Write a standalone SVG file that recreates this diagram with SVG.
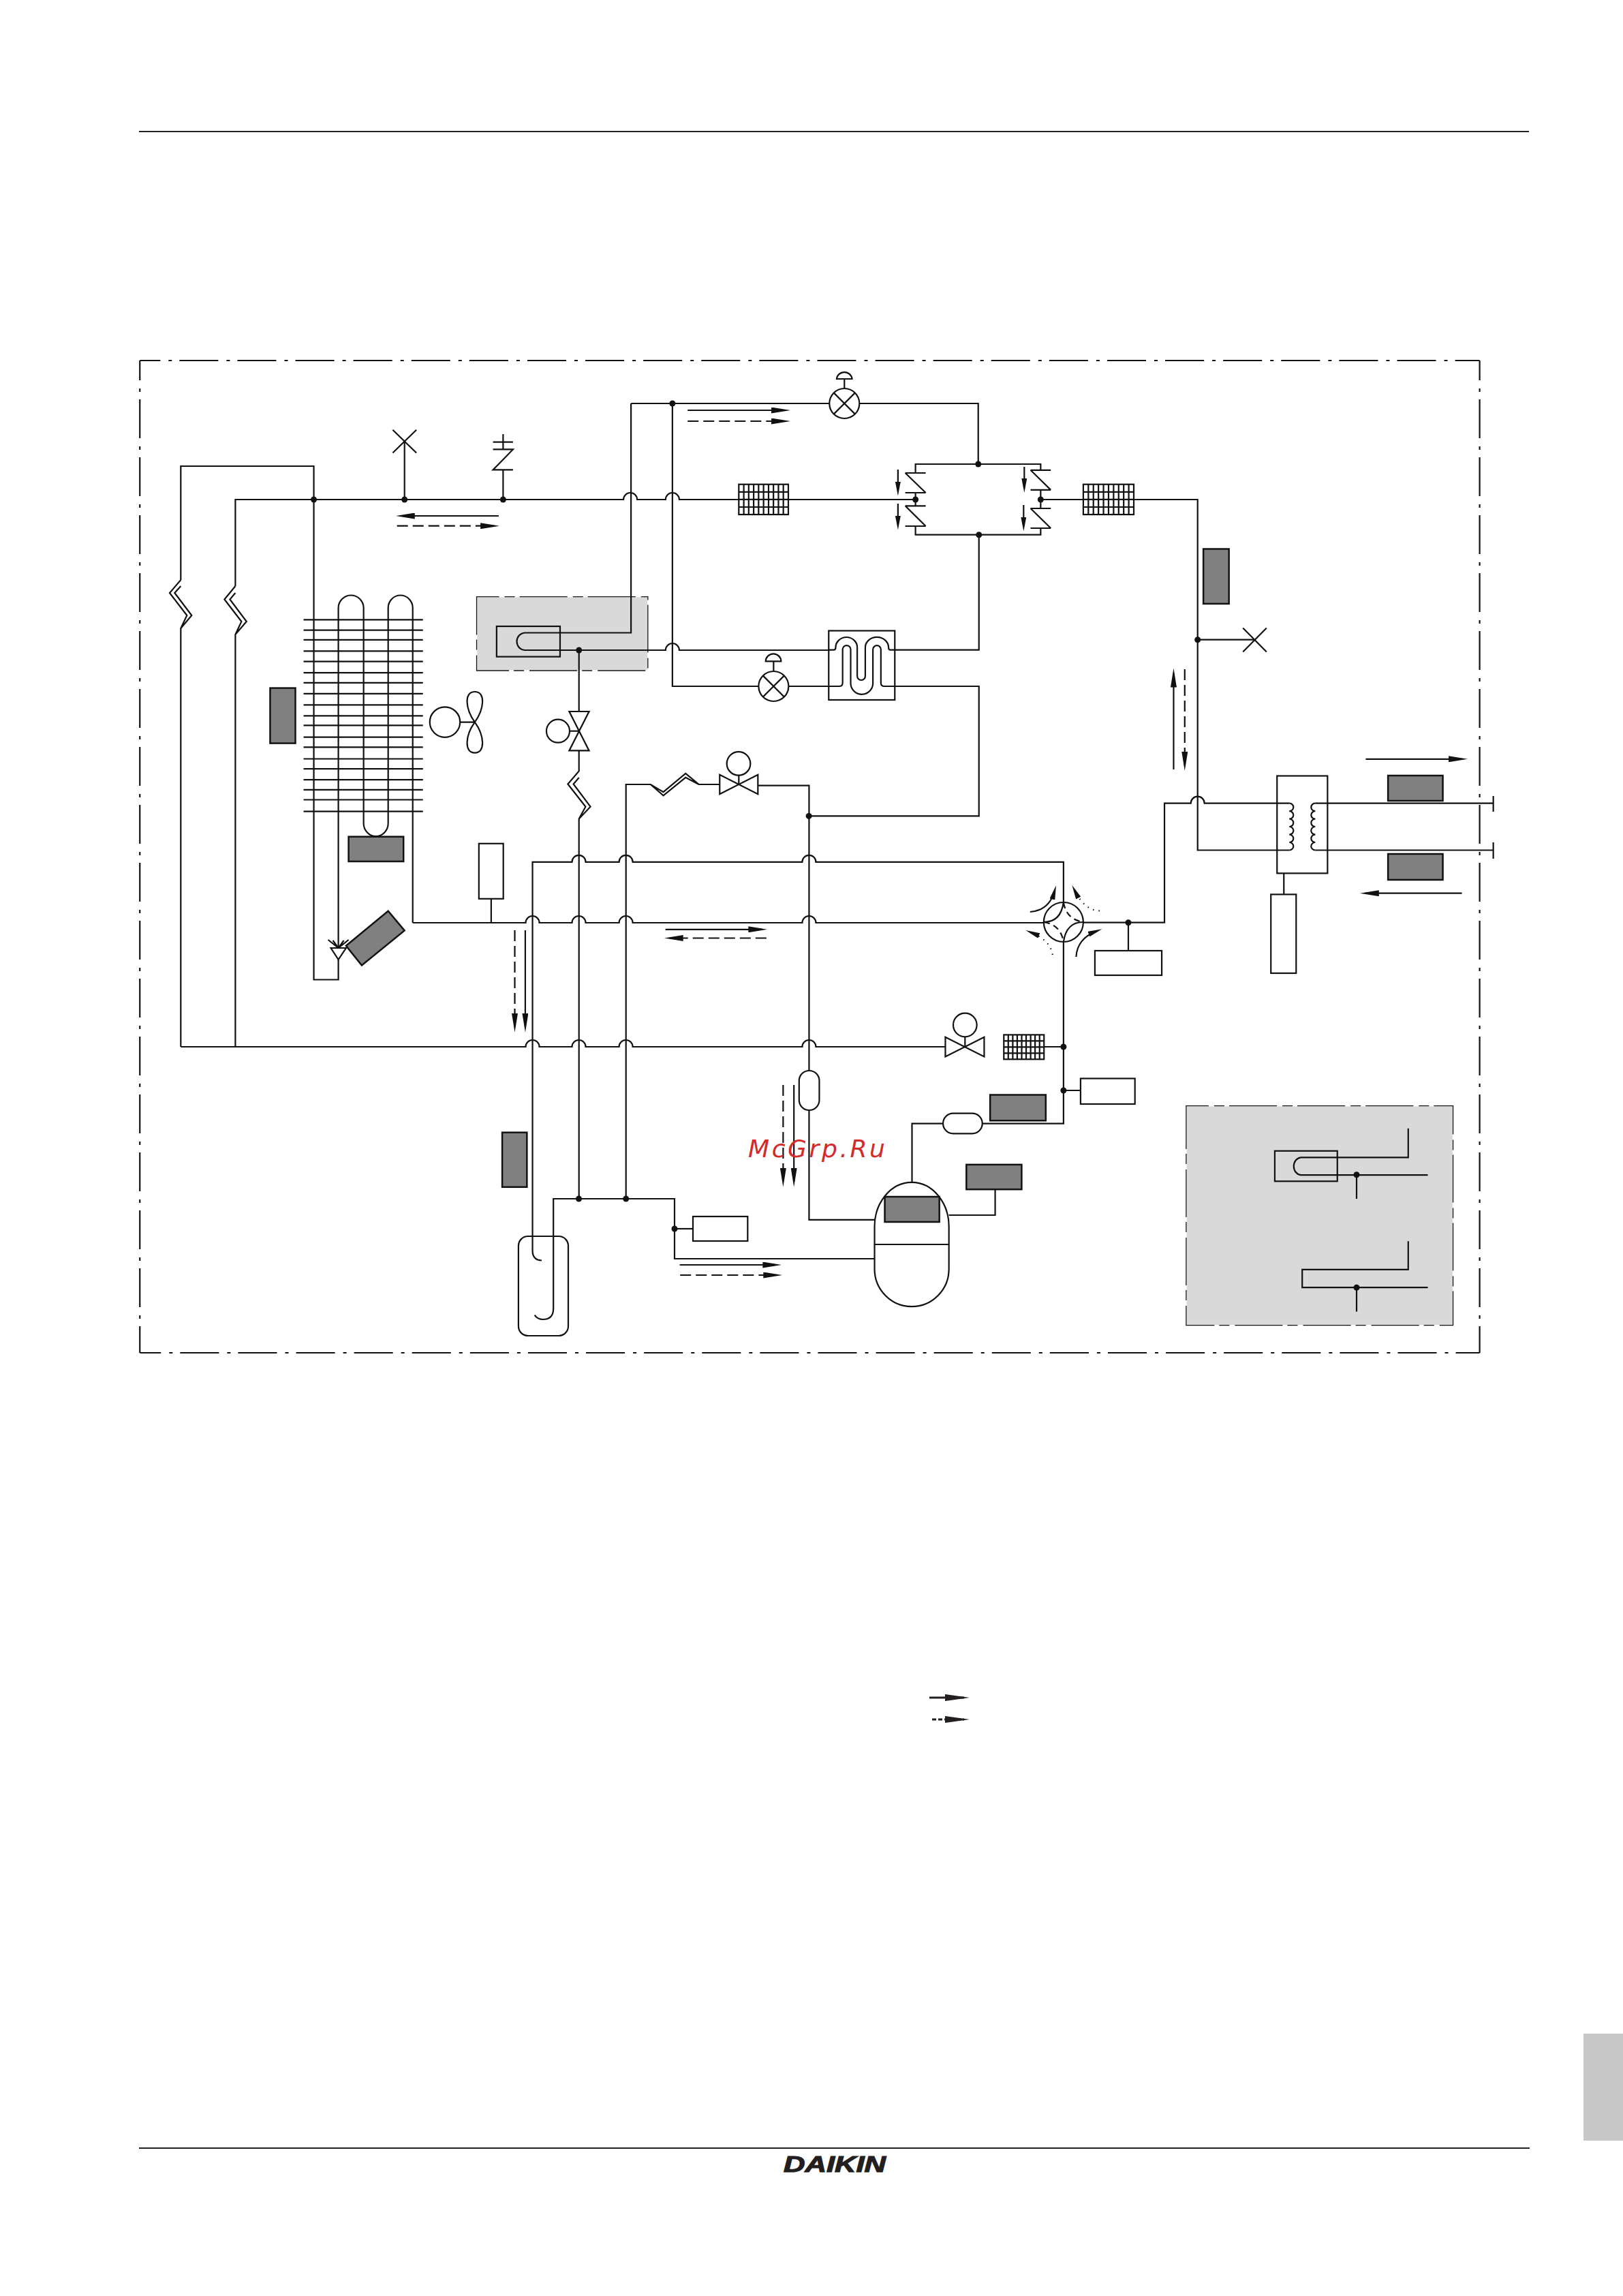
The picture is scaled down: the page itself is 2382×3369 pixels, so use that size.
<svg xmlns="http://www.w3.org/2000/svg" width="2382" height="3369" viewBox="0 0 2382 3369">
<style>
.l{fill:none;stroke:#111;stroke-width:2.2}
.w{fill:#fff;stroke:#111;stroke-width:2.2}
.g{fill:#808080;stroke:#111;stroke-width:2.5}
.zone{fill:#d9d9d9;stroke:#fff;stroke-width:1.5}
.zoneb{fill:none;stroke:#111;stroke-width:1.3;stroke-dasharray:70 8 15 7;stroke-dashoffset:37}
.frame{fill:none;stroke:#111;stroke-width:2.2;stroke-dasharray:57 12 5 11}
.dash{stroke-dasharray:16 7}
.dot{stroke-dasharray:1.5 7}
.a{marker-end:url(#hA)}
.s{marker-end:url(#hS)}
.n{fill:#111}
</style>
<defs>
<marker id="hA" markerUnits="userSpaceOnUse" markerWidth="28" markerHeight="9" refX="20" refY="4.5" orient="auto"><path d="M0,0L28,4.5L0,9Z" fill="#111"/></marker>
<marker id="hS" markerUnits="userSpaceOnUse" markerWidth="21" markerHeight="8" refX="13" refY="4" orient="auto"><path d="M0,0L21,4L0,8Z" fill="#111"/></marker>
<marker id="hL" markerUnits="userSpaceOnUse" markerWidth="36" markerHeight="10" refX="28" refY="5" orient="auto"><path d="M0,0L36,5L0,10Z" fill="#231f20"/></marker>
</defs>
<rect width="2382" height="3369" fill="#fff"/>
<g id="page">
<path d="M204,193H2244" fill="none" stroke="#222" stroke-width="2"/>
<path d="M204,3152H2245" fill="none" stroke="#222" stroke-width="2"/>
<rect x="2324" y="2984" width="58" height="157" fill="#c8c8c8"/>
<text x="1150" y="3187" font-family="'Liberation Sans',Arial,sans-serif" font-weight="700" font-style="italic" font-size="33" textLength="150" lengthAdjust="spacingAndGlyphs" fill="#231f20" stroke="#231f20" stroke-width="1.2">DAIKIN</text>
</g>
<g transform="scale(1.0012 1)">
<g id="frame">
<path class="frame" stroke-dashoffset="27" d="M205,529H2169"/>
<path class="frame" stroke-dashoffset="28" d="M205,529V1985"/>
<path class="frame" stroke-dashoffset="26" d="M205,1985H2169"/>
<path class="frame" stroke-dashoffset="28" d="M2169,529V1985"/>
</g>
<g id="zones">
<g id="zone-a"><rect class="zone" x="698.7" y="875.6" width="251" height="108.4"/><rect class="zoneb" x="698.7" y="875.6" width="251" height="108.4"/></g>
<g id="zone-b"><rect class="zone" x="1738.8" y="1622.7" width="391.2" height="322"/><rect class="zoneb" x="1738.8" y="1622.7" width="391.2" height="322"/></g>
</g>
<g id="connectors">
<path class="l" d="M265,851V684H460V1437.5H496V1408"/>
<path class="l" d="M265,851L248.7,870L274,903L265,922V1536M265,860L256,870L281,903L265,922"/>
<path class="l" d="M345,860V733H914A10,10 0 0 1 934,733H975.7A10,10 0 0 1 995.7,733H1342"/>
<path class="l" d="M345,860L329,879.5L354,912L345,931V1536M345,870L337,879.5L361.4,912L345,931"/>
<path class="l" d="M265,1536H770.6A10,10 0 0 1 790.6,1536H838.5A10,10 0 0 1 858.5,1536H907.5A10,10 0 0 1 927.5,1536H1176A10,10 0 0 1 1196,1536H1385.8"/>
<path class="l" d="M593,733V648M737.5,733V689.4"/>
<path class="l" d="M925,592V928.5H769A12.5,12.8 0 0 0 769,954H975.7A10,10 0 0 1 995.7,954H1214.8"/>
<path class="l" d="M925,592H1215.8M1260,592H1434V681"/>
<path class="l" d="M985.7,592V1007H1112M1156,1007H1214.8"/>
<path class="l" d="M1311.7,953.6H1435V784.7M1311.7,1007H1435V1197.4H1185.7"/>
<path class="l" d="M1342,694V681H1525.5V690M1342,772V784.7H1525.5V775M1342,723V742M1525.5,719V746"/>
<path class="l" d="M1525.5,733H1755.6V1247.5H1890"/>
<path class="l" d="M1755.6,938.7H1838.8"/>
<path class="l" d="M1588,1353.7H1707V1178.7H1745.6A10,10 0 0 1 1765.6,1178.7H1890"/>
<path class="l" d="M1928,1178.7H2189M1928,1247.5H2189"/>
<path class="l" d="M1654,1353.7V1395"/>
<path class="l" d="M605,1354H770.6A10,10 0 0 1 790.6,1354H838.5A10,10 0 0 1 858.5,1354H907.5A10,10 0 0 1 927.5,1354H1176A10,10 0 0 1 1196,1354H1530"/>
<path class="l" d="M720,1319V1354"/>
<path class="l" d="M794,1849.5Q780.6,1849 780.6,1835V1264.8H838.5A10,10 0 0 1 858.5,1264.8H907.5A10,10 0 0 1 927.5,1264.8H1176A10,10 0 0 1 1196,1264.8H1559V1324"/>
<path class="l" d="M848.7,954V1044M848.7,1101.4V1131.4L832.4,1150.5L858.4,1183.7L848.7,1201.5V1759M848.7,1141L840.6,1150.5L865.5,1183.7L848.7,1201.5"/>
<path class="l" d="M917.6,1759V1151H953.6L972.4,1162.2L1005,1135L1024.5,1151H1055M953.6,1151L972.4,1167.3L1005,1140.8L1024.5,1151"/>
<path class="l" d="M1111,1152.6H1186V1571M1186,1629V1789.8H1282"/>
<path class="l" d="M1559,1382V1648.6H1440M1382.4,1648.6H1336.9V1735"/>
<path class="l" d="M1530,1536H1559M1559,1600H1584"/>
<path class="l" d="M1458.8,1745V1783H1391"/>
<path class="l" d="M1282,1847H988.8V1759H811.2V1920Q811.2,1936 796,1936Q788,1936 783.7,1929.6"/>
<path class="l" d="M988.8,1803H1015.8"/>
<path class="l" d="M1882,1281.4V1312.4"/>
<path class="l a" d="M731,757H588"/>
<path class="l a dash" d="M582,771.7H724.3"/>
<path class="l a" d="M1008,602H1150.7"/>
<path class="l a dash" d="M1008,618H1150.7"/>
<path class="l a" d="M1720.4,1129V988.6"/>
<path class="l a dash" d="M1736.7,982V1123"/>
<path class="l a" d="M2002,1113.8H2143.5"/>
<path class="l a" d="M2143,1310.7H2001.4"/>
<path class="l a dash" d="M754.6,1365V1506.8"/>
<path class="l a" d="M770,1365V1506.8"/>
<path class="l a" d="M975.5,1363.8H1117"/>
<path class="l a dash" d="M1123.5,1376.5H981.5"/>
<path class="l a dash" d="M1148,1592V1733.8"/>
<path class="l a" d="M1163.8,1592V1733.8"/>
<path class="l a" d="M996.4,1856H1138"/>
<path class="l a dash" d="M997,1871H1139"/>
<path class="l s" d="M1316.3,689V719.5"/>
<path class="l s" d="M1316.3,739V769.6"/>
<path class="l s" d="M1501.5,685V715"/>
<path class="l s" d="M1500.5,741V771.6"/>
<path class="l s" d="M1510,1338Q1538,1336 1546,1307"/>
<path class="l s" d="M1577.5,1404Q1579,1377 1608,1366"/>
<path class="l s dot" d="M1612,1336.5Q1590,1336 1575,1306"/>
<path class="l s dot" d="M1543,1401Q1540,1380 1511,1368"/>
</g>
<g id="condenser-coil">
<path class="l" d="M445,909.4H620M445,924.7H620M445,938.8H620M445,955.4H620M445,970.7H620M445,987.2H620M445,1001.9H620M445,1017.9H620M445,1034.4H620M445,1050.4H620M445,1064.4H620M445,1081.6H620M445,1096.3H620M445,1113.5H620M445,1128.2H620M445,1144.1H620M445,1158.8H620M445,1173.5H620M445,1190.7H620"/>
<path class="l" d="M496,1390V892A18.5,18.5 0 0 1 533,892V1208A18,19 0 0 0 569,1208V892A18,18.5 0 0 1 605,892V1354"/>
</g>
<g id="distributor">
<path class="w" d="M485,1391H507.3L496,1408Z"/>
<path class="l" d="M496,1391L481,1379M496,1391L488,1380M496,1391L504,1380M496,1391L511,1379"/>
</g>
<g id="vent-left"><path class="l" d="M575.7,630.7L610.4,664.5M610.4,630.7L575.7,664.5"/></g>
<g id="charge-valve"><path class="l" d="M752,689.4H722.7L752,659.4H722.7M722.7,648.6H752M737.5,637V659.4"/></g>
<g id="fan">
<circle class="w" cx="652.2" cy="1059.6" r="22.2"/>
<path class="l" d="M674,1059.6H696M696,1059.6C682,1040 680,1015 696,1015C712,1015 710,1040 696,1059.6ZM696,1059.6C682,1079 680,1104.6 696,1104.6C712,1104.6 710,1079 696,1059.6Z"/>
</g>
<g id="plate-exchanger-a">
<rect class="l" x="728" y="919" width="93" height="44.6"/>
</g>
<g id="solenoid-valve">
<path class="w" d="M834.4,1044H863.5L834.4,1101.4H863.5Z"/>
<circle class="w" cx="818" cy="1072.7" r="17"/>
<path class="l" d="M835,1072.7H849"/>
</g>
<g id="valve-top">
<circle class="w" cx="1237.8" cy="592" r="22"/>
<path class="l" d="M1222.2,576.4L1253.4,607.6M1253.4,576.4L1222.2,607.6M1237.8,570V556M1226.5,556A11.3,11 0 0 1 1249,556Z"/>
</g>
<g id="valve-mid">
<circle class="w" cx="1134" cy="1007" r="22"/>
<path class="l" d="M1118.4,991.4L1149.6,1022.6M1149.6,991.4L1118.4,1022.6M1134,985V970.4M1122.4,970.4A11.3,11 0 0 1 1145,970.4Z"/>
</g>
<g id="heat-exchanger">
<rect class="l" x="1214.8" y="925.5" width="96.9" height="101.5"/>
<path class="l" d="M1214.8,953.6H1222Q1225,953.6 1225,950A15.8,15 0 0 1 1256.6,950V992A5.9,6 0 0 0 1268.4,992V950A17,15 0 0 1 1302.5,950Q1302.5,953.6 1305,953.6H1311.7"/>
<path class="l" d="M1214.8,1007H1230Q1235.2,1007 1235.2,1002V953A5.9,5.9 0 0 1 1247,953V1002.5A16.3,16.3 0 0 0 1279.6,1002.5V953A5.85,5.85 0 0 1 1291.3,953V1002Q1291.3,1007 1296.4,1007H1311.7"/>
</g>
<g id="motor-valve-a">
<path class="w" d="M1055,1136.7V1165.3L1111,1136.7V1165.3Z"/>
<circle class="w" cx="1082.7" cy="1120.4" r="17.3"/>
<path class="l" d="M1083,1137.7V1151"/>
</g>
<g id="check-valves">
<path class="l" d="M1327,694H1357M1327,694L1357,723M1327,723H1357M1327,742.3H1357M1327,742.3L1357,772M1327,772H1357"/>
<path class="l" d="M1510.7,689.8H1540.3M1510.7,689.8L1540.3,718.9M1510.7,718.9H1540.3M1510.7,746H1540.3M1510.7,746L1540.3,775M1510.7,775H1540.3"/>
</g>
<g id="filter-a">
<rect class="w" x="1083" y="710.7" width="72.6" height="44.3"/>
<path class="l" d="M1090.3,710.7V755M1097.5,710.7V755M1104.8,710.7V755M1112,710.7V755M1119.3,710.7V755M1126.6,710.7V755M1133.8,710.7V755M1141.1,710.7V755M1148.3,710.7V755M1083,721.8H1155.6M1083,732.9H1155.6M1083,744H1155.6"/>
</g>
<g id="filter-b">
<rect class="w" x="1588" y="710.7" width="74" height="44.3"/>
<path class="l" d="M1595.4,710.7V755M1602.8,710.7V755M1610.2,710.7V755M1617.6,710.7V755M1625,710.7V755M1632.4,710.7V755M1639.8,710.7V755M1647.2,710.7V755M1654.6,710.7V755M1588,721.8H1662M1588,732.9H1662M1588,744H1662"/>
</g>
<g id="filter-c">
<rect class="w" x="1471.5" y="1518.4" width="58.9" height="35.9"/>
<path class="l" d="M1478,1518.4V1554.3M1484.6,1518.4V1554.3M1491.1,1518.4V1554.3M1497.7,1518.4V1554.3M1504.2,1518.4V1554.3M1510.8,1518.4V1554.3M1517.3,1518.4V1554.3M1523.9,1518.4V1554.3M1471.5,1527.4H1530.4M1471.5,1536.3H1530.4M1471.5,1545.3H1530.4"/>
</g>
<g id="vent-right"><path class="l" d="M1822,921.5L1856.6,956.5M1856.6,921.5L1822,956.5"/></g>
<g id="plate-exchanger-main">
<rect class="l" x="1872" y="1138.5" width="74" height="142.9"/>
<path class="l" d="M1890,1178.7A6,5.7 0 0 1 1890,1190.2A6,5.7 0 0 1 1890,1201.6A6,5.7 0 0 1 1890,1213A6,5.7 0 0 1 1890,1224.6A6,5.7 0 0 1 1890,1236A6,5.7 0 0 1 1890,1247.5"/>
<path class="l" d="M1928,1178.7A6,5.7 0 0 0 1928,1190.2A6,5.7 0 0 0 1928,1201.6A6,5.7 0 0 0 1928,1213A6,5.7 0 0 0 1928,1224.6A6,5.7 0 0 0 1928,1236A6,5.7 0 0 0 1928,1247.5"/>
</g>
<g id="terminals"><path class="l" d="M2189,1168V1191M2189,1236V1260"/></g>
<g id="four-way-valve">
<circle class="l" cx="1559" cy="1353" r="29"/>
<path class="l" d="M1530,1353Q1555,1353 1559,1324M1559,1382Q1563,1353 1588,1353"/>
<path class="l" stroke-dasharray="9 6" d="M1559,1324Q1563,1349 1588,1353M1530,1353Q1555,1357 1559,1382"/>
</g>
<g id="motor-valve-b">
<path class="w" d="M1385.8,1521.8V1550.5L1442.7,1521.8V1550.5Z"/>
<circle class="w" cx="1414.6" cy="1504" r="17.3"/>
<path class="l" d="M1414.6,1521.3V1536"/>
</g>
<g id="accumulator">
<rect class="l" x="760" y="1814" width="73" height="146" rx="14"/>
</g>
<g id="capsule-a"><rect class="w" x="1171.4" y="1571" width="29.6" height="58" rx="14.8"/></g>
<g id="capsule-b"><rect class="w" x="1382.4" y="1633.7" width="57.6" height="29.7" rx="14.8"/></g>
<g id="compressor">
<path class="l" d="M1282,1800A54.4,65 0 0 1 1391,1800V1862A54.4,55 0 0 1 1282,1862ZM1282,1826H1391"/>
<rect id="g-compressor" class="g" x="1297" y="1756" width="80" height="37"/>
</g>
<g id="box-a"><rect class="w" x="702" y="1237.8" width="35.8" height="81"/></g>
<g id="box-b"><rect class="w" x="1605" y="1395" width="98" height="36"/></g>
<g id="box-c"><rect class="w" x="1863" y="1312.4" width="37" height="115.6"/></g>
<g id="box-d"><rect class="w" x="1584" y="1582.5" width="79.7" height="37.5"/></g>
<g id="box-e"><rect class="w" x="1015.8" y="1785" width="80.2" height="36"/></g>
<g id="gray-1"><rect class="g" x="396" y="1009.6" width="37" height="81"/></g>
<g id="gray-2"><rect class="g" x="511" y="1227.7" width="80.5" height="36.3"/></g>
<g id="gray-3"><path class="g" d="M569,1336.7L593,1365.4L530.3,1416.5L507.3,1387.8Z"/></g>
<g id="gray-4"><rect class="g" x="1764" y="805.5" width="37.5" height="80.4"/></g>
<g id="gray-5"><rect class="g" x="2034.7" y="1138" width="80.3" height="37"/></g>
<g id="gray-6"><rect class="g" x="2034.7" y="1253" width="80.3" height="38"/></g>
<g id="gray-7"><rect class="g" x="736.2" y="1661.7" width="36.2" height="80.1"/></g>
<g id="gray-8"><rect class="g" x="1451.4" y="1606.5" width="81.6" height="37.8"/></g>
<g id="gray-9"><rect class="g" x="1416.6" y="1708.9" width="81" height="36.3"/></g>
<g id="legend-detail">
<rect class="l" x="1868.7" y="1688.8" width="91.7" height="44.5"/>
<path class="l" d="M2064.3,1655.7V1698.3H1906.9A11.4,13 0 0 0 1906.9,1724.2H2093"/>
<path class="l" d="M1988.6,1724V1759"/>
<path class="l" d="M2064.3,1821.3V1862.9H1908.9V1889.2H2093"/>
<path class="l" d="M1988.6,1889V1924.6"/>
</g>
<g id="junctions">
<circle class="n" cx="460" cy="733" r="4.5"/>
<circle class="n" cx="593" cy="733" r="4.5"/>
<circle class="n" cx="737.5" cy="733" r="4.5"/>
<circle class="n" cx="985.7" cy="592" r="4.5"/>
<circle class="n" cx="1434" cy="681" r="4.5"/>
<circle class="n" cx="1435" cy="784.7" r="4.5"/>
<circle class="n" cx="1342" cy="733" r="4.5"/>
<circle class="n" cx="1525.5" cy="733" r="4.5"/>
<circle class="n" cx="848.7" cy="954" r="4.5"/>
<circle class="n" cx="1755.6" cy="938.7" r="4.5"/>
<circle class="n" cx="1185.7" cy="1197.4" r="4.5"/>
<circle class="n" cx="1654" cy="1353.7" r="4.5"/>
<circle class="n" cx="1559" cy="1536" r="4.5"/>
<circle class="n" cx="1559" cy="1600" r="4.5"/>
<circle class="n" cx="848.5" cy="1759" r="4.5"/>
<circle class="n" cx="917.6" cy="1759" r="4.5"/>
<circle class="n" cx="988.8" cy="1803" r="4.5"/>
<circle class="n" cx="1988.6" cy="1723.7" r="4.5"/>
<circle class="n" cx="1988.6" cy="1889.2" r="4.5"/>
</g>
</g>
<g id="legend">
<path d="M1364,2491H1415" fill="none" stroke="#231f20" stroke-width="3" marker-end="url(#hL)"/>
<path d="M1368,2523H1415" fill="none" stroke="#231f20" stroke-width="3" stroke-dasharray="6 3" marker-end="url(#hL)"/>
</g>
<text id="watermark" x="1098" y="1698" font-family="'DejaVu Sans',sans-serif" font-style="italic" font-size="36" letter-spacing="3.6" fill="#d42a2a">McGrp.Ru</text>
</svg>
